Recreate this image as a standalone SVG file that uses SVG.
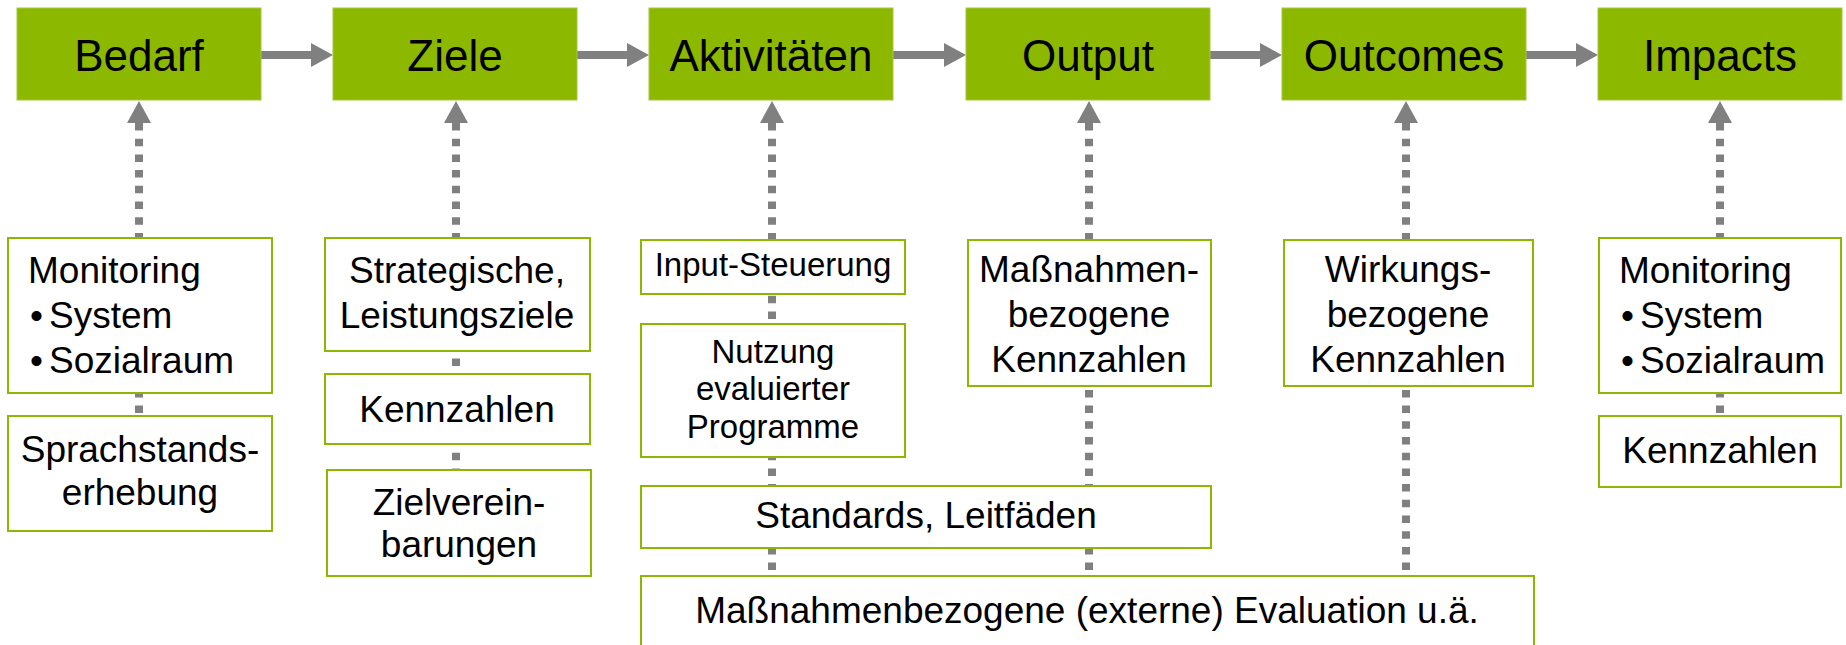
<svg xmlns="http://www.w3.org/2000/svg" width="1846" height="645" viewBox="0 0 1846 645">
<style>
.top{fill:#8cb800;stroke:#a3c83f;stroke-width:1}
.box{fill:#ffffff;stroke:#8cb800;stroke-width:2}
.tt{font-family:"Liberation Sans",Arial,sans-serif;font-size:44px;fill:#000;text-anchor:middle}
.t{font-family:"Liberation Sans",Arial,sans-serif;font-size:37px;fill:#000;text-anchor:middle}
.ts{font-family:"Liberation Sans",Arial,sans-serif;font-size:33px;fill:#000;text-anchor:middle}
.tl{font-family:"Liberation Sans",Arial,sans-serif;font-size:37px;fill:#000}
.h{fill:none;stroke:#808080;stroke-width:8}
.v{fill:none;stroke:#808080;stroke-width:8;stroke-dasharray:7.5 8.2}
</style>
<defs>
<marker id="ah" markerUnits="userSpaceOnUse" markerWidth="23" markerHeight="24" refX="0" refY="12" orient="auto-start-reverse" viewBox="0 0 23 24">
<path d="M0,0 L22,12 L0,24 z" fill="#808080"/>
</marker>
</defs>
<g id="connectors">
<path class="h" d="M261,55 H311" marker-end="url(#ah)"/>
<path class="h" d="M577,55 H627" marker-end="url(#ah)"/>
<path class="h" d="M893,55 H944" marker-end="url(#ah)"/>
<path class="h" d="M1210,55 H1260" marker-end="url(#ah)"/>
<path class="h" d="M1526,55 H1576" marker-end="url(#ah)"/>
<path class="v" d="M139,123 V416" marker-start="url(#ah)"/>
<path class="v" d="M456,123 V470" marker-start="url(#ah)"/>
<path class="v" d="M772,123 V576" marker-start="url(#ah)"/>
<path class="v" d="M1089,123 V576" marker-start="url(#ah)"/>
<path class="v" d="M1406,123 V576" marker-start="url(#ah)"/>
<path class="v" d="M1720,123 V416" marker-start="url(#ah)"/>
</g>
<g id="bedarf"><rect class="top" x="17" y="8" width="244" height="92"/><text class="tt" x="139" y="71">Bedarf</text></g>
<g id="ziele"><rect class="top" x="333" y="8" width="244" height="92"/><text class="tt" x="455" y="71">Ziele</text></g>
<g id="aktivitaeten"><rect class="top" x="649" y="8" width="244" height="92"/><text class="tt" x="771" y="71">Aktivitäten</text></g>
<g id="output"><rect class="top" x="966" y="8" width="244" height="92"/><text class="tt" x="1088" y="71">Output</text></g>
<g id="outcomes"><rect class="top" x="1282" y="8" width="244" height="92"/><text class="tt" x="1404" y="71">Outcomes</text></g>
<g id="impacts"><rect class="top" x="1598" y="8" width="244" height="92"/><text class="tt" x="1720" y="71">Impacts</text></g>
<g id="monitoring1"><rect class="box" x="8" y="238" width="264" height="155"/>
<text class="tl" x="28" y="283">Monitoring</text>
<text class="tl" x="30" y="328">•</text><text class="tl" x="49" y="328">System</text>
<text class="tl" x="30" y="373">•</text><text class="tl" x="49" y="373">Sozialraum</text></g>
<g id="sprachstand"><rect class="box" x="8" y="416" width="264" height="115"/>
<text class="t" x="140" y="462">Sprachstands-</text><text class="t" x="140" y="505">erhebung</text></g>
<g id="strategische"><rect class="box" x="325" y="238" width="265" height="113"/>
<text class="t" x="457" y="283">Strategische,</text><text class="t" x="457" y="328">Leistungsziele</text></g>
<g id="kennzahlen2"><rect class="box" x="325" y="374" width="265" height="70"/>
<text class="t" x="457" y="422">Kennzahlen</text></g>
<g id="zielvereinbarungen"><rect class="box" x="327" y="470" width="264" height="106"/>
<text class="t" x="459" y="515">Zielverein-</text><text class="t" x="459" y="557">barungen</text></g>
<g id="input"><rect class="box" x="641" y="240" width="264" height="54"/>
<text class="ts" x="773" y="276">Input-Steuerung</text></g>
<g id="nutzung"><rect class="box" x="641" y="324" width="264" height="133"/>
<text class="ts" x="773" y="363">Nutzung</text><text class="ts" x="773" y="400">evaluierter</text><text class="ts" x="773" y="438">Programme</text></g>
<g id="massnahmen"><rect class="box" x="968" y="240" width="243" height="146"/>
<text class="t" x="1089" y="282">Maßnahmen-</text><text class="t" x="1089" y="327">bezogene</text><text class="t" x="1089" y="372">Kennzahlen</text></g>
<g id="standards"><rect class="box" x="641" y="486" width="570" height="62"/>
<text class="t" x="926" y="528">Standards, Leitfäden</text></g>
<g id="evaluation"><rect class="box" x="641" y="576" width="893" height="80"/>
<text class="t" x="1087" y="623">Maßnahmenbezogene (externe) Evaluation u.ä.</text></g>
<g id="wirkungs"><rect class="box" x="1284" y="240" width="249" height="146"/>
<text class="t" x="1408" y="282">Wirkungs-</text><text class="t" x="1408" y="327">bezogene</text><text class="t" x="1408" y="372">Kennzahlen</text></g>
<g id="monitoring6"><rect class="box" x="1599" y="238" width="242" height="155"/>
<text class="tl" x="1619" y="283">Monitoring</text>
<text class="tl" x="1621" y="328">•</text><text class="tl" x="1640" y="328">System</text>
<text class="tl" x="1621" y="373">•</text><text class="tl" x="1640" y="373">Sozialraum</text></g>
<g id="kennzahlen6"><rect class="box" x="1599" y="416" width="242" height="71"/>
<text class="t" x="1720" y="463">Kennzahlen</text></g>
</svg>
